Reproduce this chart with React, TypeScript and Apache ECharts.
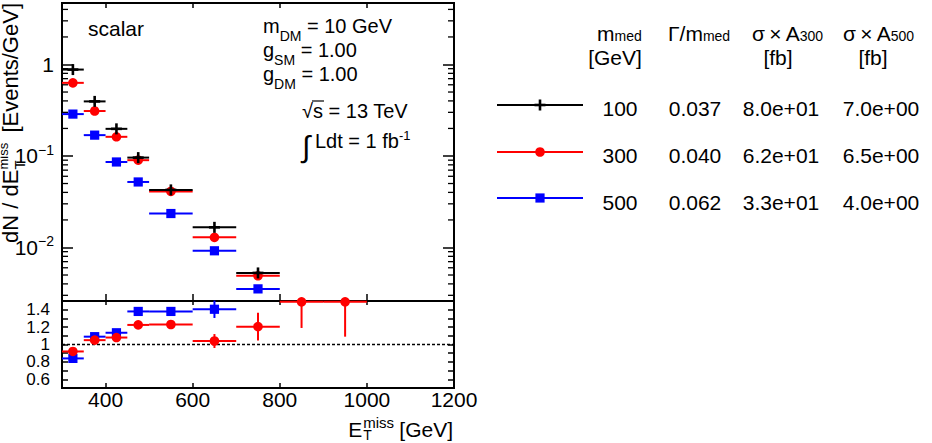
import React, { useEffect, useRef } from 'react';
import * as echarts from 'echarts';

const FONT = '"Liberation Sans", Arial, Helvetica, sans-serif';

// Missing transverse energy binning [GeV]
const binEdges = [300, 350, 400, 450, 500, 600, 700, 800, 900, 1000];

// dN/dE_T^miss [Events/GeV] for the three mediator masses
const spectrum100 = [0.88, 0.395, 0.198, 0.096, 0.0426, 0.0166, 0.00527];
const spectrum300 = [0.63, 0.31, 0.162, 0.09, 0.041, 0.0129, 0.0049];
const spectrum500 = [0.287, 0.169, 0.086, 0.052, 0.0235, 0.0092, 0.00352];

// Ratio to the m_med = 100 GeV spectrum
const ratio300 = [0.92, 1.05, 1.08, 1.225, 1.23, 1.04, 1.205, 1.49, 1.49];
const ratio300ErrLow = [0.02, 0.02, 0.02, 0.03, 0.03, 0.08, 0.16, 0.3, 0.4];
const ratio300ErrHigh = [0.02, 0.02, 0.02, 0.03, 0.03, 0.08, 0.16, 0, 0];
const ratio500 = [0.84, 1.09, 1.135, 1.38, 1.38, 1.405];
const ratio500Err = [0.02, 0.02, 0.02, 0.03, 0.03, 0.1];

// Legend table
const legendMmed = ['100', '300', '500'];
const legendWidth = ['0.037', '0.040', '0.062'];
const legendXsec300 = ['8.0e+01', '6.2e+01', '3.3e+01'];
const legendXsec500 = ['7.0e+00', '6.5e+00', '4.0e+00'];

const X_MIN = 300;
const X_MAX = 1200;
const Y_MIN = 0.0026;
const Y_MAX = 4.7;
const R_MIN = 0.5;
const R_MAX = 1.5;

const BLACK = '#000000';
const RED = '#ff0000';
const BLUE = '#0000ff';

type Marker = 'plus' | 'circle' | 'square';

const markerShapes = (marker: Marker, cx: number, cy: number, color: string): any[] => {
  if (marker === 'plus') {
    return [
      { type: 'rect', shape: { x: cx - 5.5, y: cy - 1.3, width: 11, height: 2.6 }, style: { fill: color } },
      { type: 'rect', shape: { x: cx - 1.3, y: cy - 5.5, width: 2.6, height: 11 }, style: { fill: color } },
    ];
  }
  if (marker === 'circle') {
    return [{ type: 'circle', shape: { cx, cy, r: 4.8 }, style: { fill: color } }];
  }
  return [{ type: 'rect', shape: { x: cx - 4.6, y: cy - 4.6, width: 9.2, height: 9.2 }, style: { fill: color } }];
};

const histRows = (vals: number[], lo?: number[], hi?: number[]) =>
  vals.map((v, i) => [binEdges[i], binEdges[i + 1], v, v - (lo ? lo[i] : 0), v + (hi ? hi[i] : 0)]);

const pointsRenderer = (color: string, marker: Marker) => (params: any, api: any) => {
  const x0 = api.value(0);
  const x1 = api.value(1);
  const y = api.value(2);
  const yLo = api.value(3);
  const yHi = api.value(4);
  const xc = (x0 + x1) / 2;
  const pL = api.coord([x0, y]);
  const pR = api.coord([x1, y]);
  const pC = api.coord([xc, y]);
  const pLo = api.coord([xc, yLo]);
  const pHi = api.coord([xc, yHi]);
  const children: any[] = [
    { type: 'line', shape: { x1: pL[0], y1: pL[1], x2: pR[0], y2: pR[1] }, style: { stroke: color, lineWidth: 2 } },
  ];
  if (Math.abs(pLo[1] - pHi[1]) > 0.5) {
    children.push({ type: 'line', shape: { x1: pC[0], y1: pLo[1], x2: pC[0], y2: pHi[1] }, style: { stroke: color, lineWidth: 2 } });
  }
  children.push(...markerShapes(marker, pC[0], pC[1], color));
  return { type: 'group', children };
};

// log-axis minor ticks (2..9 x 10^n)
const logMinorTicks: number[] = [];
for (let e = -3; e <= 0; e++) {
  for (let k = 2; k <= 9; k++) {
    const v = k * Math.pow(10, e);
    if (v > Y_MIN && v < Y_MAX) logMinorTicks.push(v);
  }
}

let measureCtx: CanvasRenderingContext2D | null = null;
const textWidth = (t: string, size: number) => {
  if (!measureCtx) measureCtx = document.createElement('canvas').getContext('2d');
  measureCtx!.font = `${size}px ${FONT}`;
  return measureCtx!.measureText(t).width;
};

const textEl = (text: string, x: number, y: number, size: number, align = 'left', extra: any = {}) => ({
  type: 'text',
  x,
  y,
  silent: true,
  style: {
    text,
    fill: '#000',
    fontSize: size,
    fontFamily: FONT,
    align,
    textAlign: align,
    verticalAlign: 'middle',
    textVerticalAlign: 'middle',
    ...extra,
  },
});

type Seg = { t: string; s: number; dy?: number };
const runs = (segs: Seg[], x: number, y: number) => {
  const out: any[] = [];
  let cx = x;
  for (const seg of segs) {
    out.push(textEl(seg.t, cx, y + (seg.dy || 0), seg.s));
    cx += textWidth(seg.t, seg.s);
  }
  return out;
};

const axisTickStyle = { color: '#000', width: 1.5 };

const buildGraphic = () => {
  const g: any[] = [];

  // panel annotations
  g.push(textEl('scalar', 88, 28, 21));
  g.push(...runs([{ t: 'm', s: 20 }, { t: 'DM', s: 14, dy: 10 }, { t: ' = 10 GeV', s: 20 }], 263, 26));
  g.push(...runs([{ t: 'g', s: 20 }, { t: 'SM', s: 14, dy: 10 }, { t: ' = 1.00', s: 20 }], 263, 50));
  g.push(...runs([{ t: 'g', s: 20 }, { t: 'DM', s: 14, dy: 10 }, { t: ' = 1.00', s: 20 }], 263, 74));

  const sqrtX = 302;
  const wRad = textWidth('\u221A', 20);
  g.push(...runs([{ t: '\u221A', s: 20 }, { t: 's = 13 TeV', s: 20 }], sqrtX, 111));
  g.push({
    type: 'line',
    silent: true,
    shape: { x1: sqrtX + wRad - 1, y1: 101, x2: sqrtX + wRad + textWidth('s', 20) + 1, y2: 101 },
    style: { stroke: '#000', lineWidth: 1.2 },
  });
  g.push(textEl('\u222B', 302, 146, 30));
  g.push(...runs([{ t: 'Ldt = 1 fb', s: 20 }, { t: '-1', s: 13, dy: -6 }], 315, 141));

  // x-axis title: E_T^miss [GeV]
  const xtSize = 21;
  const scriptSize = 15;
  const wUnit = textWidth(' [GeV]', xtSize);
  const wBlk = Math.max(textWidth('miss', scriptSize), textWidth('T', scriptSize));
  const xRight = 453;
  const blkStart = xRight - wUnit - wBlk;
  g.push(textEl(' [GeV]', xRight, 429, xtSize, 'right'));
  g.push(textEl('miss', blkStart + 0.5, 422, scriptSize));
  g.push(textEl('T', blkStart + 0.5, 434.5, 14));
  g.push(textEl('E', blkStart - 0.5, 429, xtSize, 'right'));

  // y-axis title: dN / dE_T^miss [Events/GeV], rotated
  const ytSize = 22;
  const wUnitY = textWidth(' [Events/GeV]', ytSize);
  const wBlkY = Math.max(textWidth('miss', scriptSize), textWidth('T', scriptSize));
  g.push({
    type: 'group',
    x: 0,
    y: 3,
    rotation: Math.PI / 2,
    silent: true,
    children: [
      textEl(' [Events/GeV]', 0, 10, ytSize, 'right'),
      textEl('miss', -wUnitY - wBlkY, 3, 13),
      textEl('T', -wUnitY - wBlkY, 19.5, scriptSize),
      textEl('dN / dE', -wUnitY - wBlkY, 10, ytSize, 'right'),
    ],
  });

  // legend table header
  g.push(...runs([{ t: 'm', s: 21 }, { t: 'med', s: 14, dy: 3 }], 597, 33));
  g.push(textEl('[GeV]', 615, 57, 21, 'center'));
  g.push(...runs([{ t: '\u0393/m', s: 21 }, { t: 'med', s: 14, dy: 3 }], 668, 33));
  g.push(...runs([{ t: '\u03C3\u2009\u00D7\u2009A', s: 21 }, { t: '300', s: 14, dy: 3 }], 752, 33));
  g.push(textEl('[fb]', 778, 57, 21, 'center'));
  g.push(...runs([{ t: '\u03C3\u2009\u00D7\u2009A', s: 21 }, { t: '500', s: 14, dy: 3 }], 843, 33));
  g.push(textEl('[fb]', 873, 57, 21, 'center'));

  // legend rows
  const styles: { color: string; marker: Marker }[] = [
    { color: BLACK, marker: 'plus' },
    { color: RED, marker: 'circle' },
    { color: BLUE, marker: 'square' },
  ];
  const lineY = [105, 152, 198];
  const textY = [108, 155.5, 202];
  styles.forEach((st, i) => {
    g.push({
      type: 'line',
      silent: true,
      shape: { x1: 497, y1: lineY[i], x2: 583, y2: lineY[i] },
      style: { stroke: st.color, lineWidth: 2 },
    });
    markerShapes(st.marker, 540, lineY[i], st.color).forEach((m) => g.push({ ...m, silent: true }));
    g.push(textEl(legendMmed[i], 620, textY[i], 21, 'center'));
    g.push(textEl(legendWidth[i], 695, textY[i], 21, 'center'));
    g.push(textEl(legendXsec300[i], 781, textY[i], 21, 'center'));
    g.push(textEl(legendXsec500[i], 881, textY[i], 21, 'center'));
  });

  return g;
};

const logLabel = (v: number) => {
  const l = Math.log10(v);
  const e = Math.round(l);
  if (Math.abs(l - e) > 1e-6) return '';
  if (e === 0) return '{b|1}';
  return `{b|10}{s|\u2212${-e}}`;
};

const ratioLabel = (v: number) => {
  const k = Math.round(v * 10);
  if (k % 2 !== 0 || k < 6 || k > 14) return '';
  return String(k / 10);
};

const buildOption = () => {
  const xBase = {
    type: 'value',
    min: X_MIN,
    max: X_MAX,
    axisLine: { show: false },
    splitLine: { show: false },
    axisLabel: { show: false },
  };
  const customBase = { type: 'custom', silent: true, clip: false, encode: { x: [0, 1], y: [2, 3, 4] } };
  return {
    animation: false,
    backgroundColor: '#ffffff',
    textStyle: { fontFamily: FONT },
    grid: [
      { left: 62, top: 3, width: 392, height: 298, show: true, borderColor: '#000', borderWidth: 2, backgroundColor: 'transparent' },
      { left: 62, top: 301, width: 392, height: 87, show: true, borderColor: '#000', borderWidth: 2, backgroundColor: 'transparent' },
    ],
    xAxis: [
      { ...xBase, gridIndex: 0, position: 'bottom', axisTick: { inside: true, length: 7, lineStyle: axisTickStyle } },
      { ...xBase, gridIndex: 0, position: 'top', axisTick: { inside: true, length: 5, lineStyle: axisTickStyle } },
      {
        ...xBase,
        gridIndex: 1,
        position: 'bottom',
        axisTick: { inside: true, length: 5, lineStyle: axisTickStyle },
        axisLabel: {
          show: true,
          color: '#000',
          fontSize: 21,
          fontFamily: FONT,
          lineHeight: 21,
          margin: 1,
          formatter: (v: number) => (v === X_MIN ? '' : String(v)),
        },
      },
      { ...xBase, gridIndex: 1, position: 'top', axisTick: { inside: true, length: 4, lineStyle: axisTickStyle } },
    ],
    yAxis: [
      {
        type: 'log',
        logBase: 10,
        gridIndex: 0,
        position: 'left',
        min: Y_MIN,
        max: Y_MAX,
        axisLine: { show: false },
        splitLine: { show: false },
        axisTick: { inside: true, length: 11, lineStyle: axisTickStyle },
        axisLabel: {
          color: '#000',
          margin: 8,
          formatter: logLabel,
          rich: {
            b: { fontSize: 21, fontFamily: FONT, color: '#000', lineHeight: 26 },
            s: { fontSize: 14, fontFamily: FONT, color: '#000', lineHeight: 14, verticalAlign: 'top' },
          },
        },
      },
      {
        type: 'log',
        logBase: 10,
        gridIndex: 0,
        position: 'right',
        min: Y_MIN,
        max: Y_MAX,
        axisLine: { show: false },
        splitLine: { show: false },
        axisTick: { inside: true, length: 11, lineStyle: axisTickStyle },
        axisLabel: { show: false },
      },
      {
        type: 'value',
        gridIndex: 1,
        position: 'left',
        min: R_MIN,
        max: R_MAX,
        interval: 0.1,
        axisLine: { show: false },
        splitLine: { show: false },
        axisTick: { inside: true, length: 6, lineStyle: axisTickStyle },
        axisLabel: { color: '#000', fontSize: 17, fontFamily: FONT, margin: 12, formatter: ratioLabel },
      },
      {
        type: 'value',
        gridIndex: 1,
        position: 'right',
        min: R_MIN,
        max: R_MAX,
        interval: 0.1,
        axisLine: { show: false },
        splitLine: { show: false },
        axisTick: { inside: true, length: 6, lineStyle: axisTickStyle },
        axisLabel: { show: false },
      },
    ],
    series: [
      {
        type: 'custom',
        silent: true,
        xAxisIndex: 0,
        yAxisIndex: 0,
        encode: { x: 0, y: 1 },
        data: logMinorTicks.map((v) => [X_MIN, v]),
        renderItem: (params: any, api: any) => {
          const cs = params.coordSys;
          const y = api.coord([api.value(0), api.value(1)])[1];
          const len = 6;
          return {
            type: 'group',
            children: [
              { type: 'line', shape: { x1: cs.x, y1: y, x2: cs.x + len, y2: y }, style: { stroke: '#000', lineWidth: 1.3 } },
              {
                type: 'line',
                shape: { x1: cs.x + cs.width - len, y1: y, x2: cs.x + cs.width, y2: y },
                style: { stroke: '#000', lineWidth: 1.3 },
              },
            ],
          };
        },
      },
      {
        type: 'line',
        silent: true,
        xAxisIndex: 2,
        yAxisIndex: 2,
        data: [
          [X_MIN, 1],
          [X_MAX, 1],
        ],
        showSymbol: false,
        symbol: 'none',
        lineStyle: { color: '#000', width: 1.6, type: [3, 2] },
        z: 1,
      },
      { ...customBase, xAxisIndex: 0, yAxisIndex: 0, data: histRows(spectrum500), renderItem: pointsRenderer(BLUE, 'square') },
      { ...customBase, xAxisIndex: 0, yAxisIndex: 0, data: histRows(spectrum300), renderItem: pointsRenderer(RED, 'circle') },
      { ...customBase, xAxisIndex: 0, yAxisIndex: 0, data: histRows(spectrum100), renderItem: pointsRenderer(BLACK, 'plus') },
      {
        ...customBase,
        xAxisIndex: 2,
        yAxisIndex: 2,
        data: histRows(ratio500, ratio500Err, ratio500Err),
        renderItem: pointsRenderer(BLUE, 'square'),
      },
      {
        ...customBase,
        xAxisIndex: 2,
        yAxisIndex: 2,
        data: histRows(ratio300, ratio300ErrLow, ratio300ErrHigh),
        renderItem: pointsRenderer(RED, 'circle'),
      },
    ],
    graphic: { elements: buildGraphic() },
  };
};

export default function App() {
  const ref = useRef<HTMLDivElement>(null);
  useEffect(() => {
    if (!ref.current) return;
    const chart = echarts.init(ref.current, undefined, { renderer: 'svg' });
    chart.setOption(buildOption() as any);
    return () => chart.dispose();
  }, []);
  return (
    <div
      ref={ref}
      style={{ position: 'absolute', left: 0, top: 0, width: 932, height: 443, background: '#fff' }}
    />
  );
}
